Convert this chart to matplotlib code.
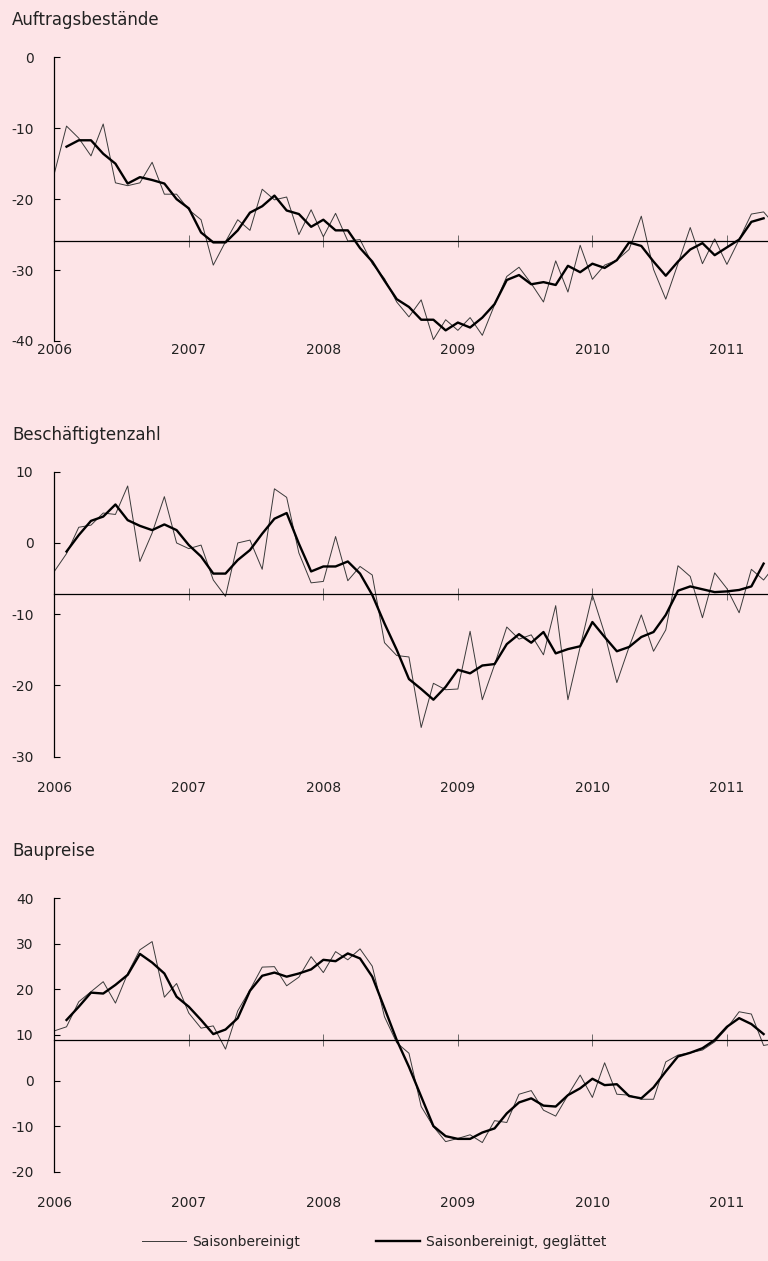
import numpy as np
import matplotlib.pyplot as plt

plt.rcParams['axes.unicode_minus'] = False

# survey rounds: 11 per year, Jan 2006 .. May 2011
years = ['2006', '2007', '2008', '2009', '2010', '2011']
year_pos = [0, 11, 22, 33, 44, 55]

titles = ['Auftragsbestände', 'Beschäftigtenzahl', 'Baupreise']

thin1 = [-16.4, -9.7, -11.4, -13.9, -9.4, -17.7, -18.1, -17.7, -14.8, -19.3,
         -19.3, -21.5, -22.9, -29.3, -26.0, -22.9, -24.4, -18.6, -20.1, -19.7,
         -25.0, -21.5, -25.3, -22.0, -25.9, -25.7, -29.1, -31.2, -34.5, -36.6,
         -34.2, -39.8, -37.0, -38.5, -36.7, -39.2, -34.9, -30.9, -29.6, -31.9,
         -34.5, -28.7, -33.1, -26.5, -31.3, -29.3, -28.6, -27.1, -22.4, -29.9,
         -34.1, -29.1, -24.0, -29.1, -25.6, -29.2, -25.7, -22.1, -21.8, -23.8]
smooth1 = [np.nan, -12.6, -11.7, -11.7, -13.6, -15.0, -17.8, -16.9, -17.3, -17.8,
           -20.0, -21.3, -24.7, -26.1, -26.1, -24.4, -21.9, -21.0, -19.5, -21.6,
           -22.1, -23.9, -22.9, -24.4, -24.4, -26.9, -28.8, -31.5, -34.1, -35.2,
           -37.0, -37.0, -38.5, -37.4, -38.1, -36.7, -34.8, -31.4, -30.7, -32.0,
           -31.7, -32.1, -29.4, -30.3, -29.1, -29.7, -28.6, -26.1, -26.6, -28.8,
           -30.8, -28.8, -27.1, -26.2, -27.9, -26.8, -25.7, -23.2, -22.7]

thin2 = [-4.0, -1.5, 2.2, 2.5, 4.2, 4.0, 8.0, -2.6, 1.4, 6.5,
         0.0, -0.8, -0.3, -5.2, -7.5, 0.0, 0.4, -3.7, 7.6, 6.4,
         -1.4, -5.6, -5.4, 0.9, -5.3, -3.3, -4.5, -14.0, -15.8, -16.0,
         -25.9, -19.7, -20.6, -20.5, -12.4, -22.0, -17.1, -11.8, -13.5, -12.9,
         -15.7, -8.8, -22.0, -14.6, -7.3, -12.7, -19.6, -14.6, -10.1, -15.2,
         -12.2, -3.2, -4.7, -10.5, -4.2, -6.4, -9.8, -3.7, -5.2, -3.0]
smooth2 = [np.nan, -1.2, 1.1, 3.1, 3.7, 5.4, 3.2, 2.4, 1.8, 2.6,
           1.8, -0.3, -1.9, -4.3, -4.3, -2.4, -1.0, 1.3, 3.4, 4.2,
           -0.1, -4.0, -3.3, -3.3, -2.6, -4.3, -7.3, -11.3, -15.0, -19.1,
           -20.5, -22.0, -20.2, -17.8, -18.3, -17.2, -17.0, -14.2, -12.8, -14.0,
           -12.5, -15.5, -14.9, -14.5, -11.1, -13.2, -15.2, -14.6, -13.2, -12.5,
           -10.1, -6.7, -6.1, -6.5, -6.9, -6.8, -6.6, -6.1, -2.9]

thin3 = [10.9, 11.8, 17.3, 19.5, 21.7, 17.0, 23.5, 28.7, 30.5, 18.3,
         21.3, 14.8, 11.5, 12.0, 6.9, 15.3, 19.9, 24.9, 25.0, 20.8,
         22.7, 27.2, 23.7, 28.3, 26.5, 28.9, 25.1, 14.0, 8.3, 6.0,
         -5.7, -10.1, -13.4, -12.7, -11.9, -13.6, -8.8, -9.2, -3.0, -2.2,
         -6.5, -7.8, -3.2, 1.2, -3.7, 3.9, -3.0, -3.2, -4.1, -4.1,
         4.1, 5.6, 6.1, 6.7, 8.5, 11.5, 15.1, 14.6, 7.7, 8.2]
smooth3 = [np.nan, 13.3, 16.2, 19.3, 19.1, 21.0, 23.2, 27.8, 25.9, 23.5,
           18.4, 16.2, 13.3, 10.2, 11.2, 13.7, 19.7, 23.0, 23.7, 22.8,
           23.5, 24.4, 26.5, 26.2, 27.9, 26.8, 22.8, 15.9, 8.9, 3.0,
           -3.5, -10.0, -12.2, -12.8, -12.8, -11.4, -10.5, -7.2, -4.8, -3.9,
           -5.5, -5.7, -3.2, -1.7, 0.4, -1.0, -0.8, -3.4, -3.9, -1.5,
           2.0, 5.3, 6.1, 7.1, 8.9, 11.8, 13.7, 12.4, 10.2]

means = [-25.9, -7.1, 9.0]
ylims = [(-40, 0), (-30, 10), (-20, 40)]
yticks = [np.arange(-40, 1, 10), np.arange(-30, 11, 10), np.arange(-20, 41, 10)]

thins = [thin1, thin2, thin3]
smooths = [smooth1, smooth2, smooth3]

bg = '#fde4e7'
txt = '#222222'

W, H = 768, 1261
fig = plt.figure(figsize=(W / 100, H / 100), dpi=100)
fig.patch.set_facecolor(bg)

# pixel layout: (top of y axis, bottom of y axis, title y, year-label offset)
layout = [(57.3, 341.0, 20, 9), (471.7, 756.7, 435, 31), (898.3, 1171.7, 851, 31)]
left = 54.3

for k in range(3):
    top, bot, ty, yoff = layout[k]
    ax = fig.add_axes([left / W, 1 - bot / H, 1 - left / W, (bot - top) / H])
    ax.set_facecolor(bg)

    ax.plot(np.arange(len(thins[k])), thins[k], color='#3a3a3a', lw=0.7)
    ax.plot(np.arange(len(smooths[k])), smooths[k], color='black', lw=1.7)

    ax.set_xlim(0, 58.36)
    ax.set_ylim(*ylims[k])

    for s in ['top', 'right']:
        ax.spines[s].set_visible(False)
    ax.spines['left'].set_linewidth(0.9)
    ax.spines['bottom'].set_position(('data', means[k]))
    ax.spines['bottom'].set_linewidth(0.9)

    ax.set_xticks(year_pos)
    ax.tick_params(axis='x', direction='inout', length=8, width=0.6,
                   color='#555555', labelbottom=False)
    ax.set_yticks(yticks[k])
    ax.tick_params(axis='y', direction='in', length=4, width=0.8,
                   pad=15, labelsize=10, labelcolor=txt)

    for p, lab in zip(year_pos, years):
        ax.annotate(lab, xy=(p, 0), xycoords=('data', 'axes fraction'),
                    xytext=(0, -yoff), textcoords='offset pixels',
                    ha='center', va='center', fontsize=10, color=txt)

    fig.text(12 / W, 1 - ty / H, titles[k], fontsize=12, va='center', color=txt)

h1, = plt.plot([], [], color='#3a3a3a', lw=0.7)
h2, = plt.plot([], [], color='black', lw=1.7)
fig.legend([h1, h2], ['Saisonbereinigt', 'Saisonbereinigt, geglättet'],
           loc='center', bbox_to_anchor=(0.487, 1 - 1242 / H), ncol=2,
           frameon=False, handlelength=3.2, handletextpad=0.4,
           columnspacing=5.5, fontsize=10, labelcolor=txt)

fig.savefig('out.png', dpi=100, facecolor=bg)
plt.close()
